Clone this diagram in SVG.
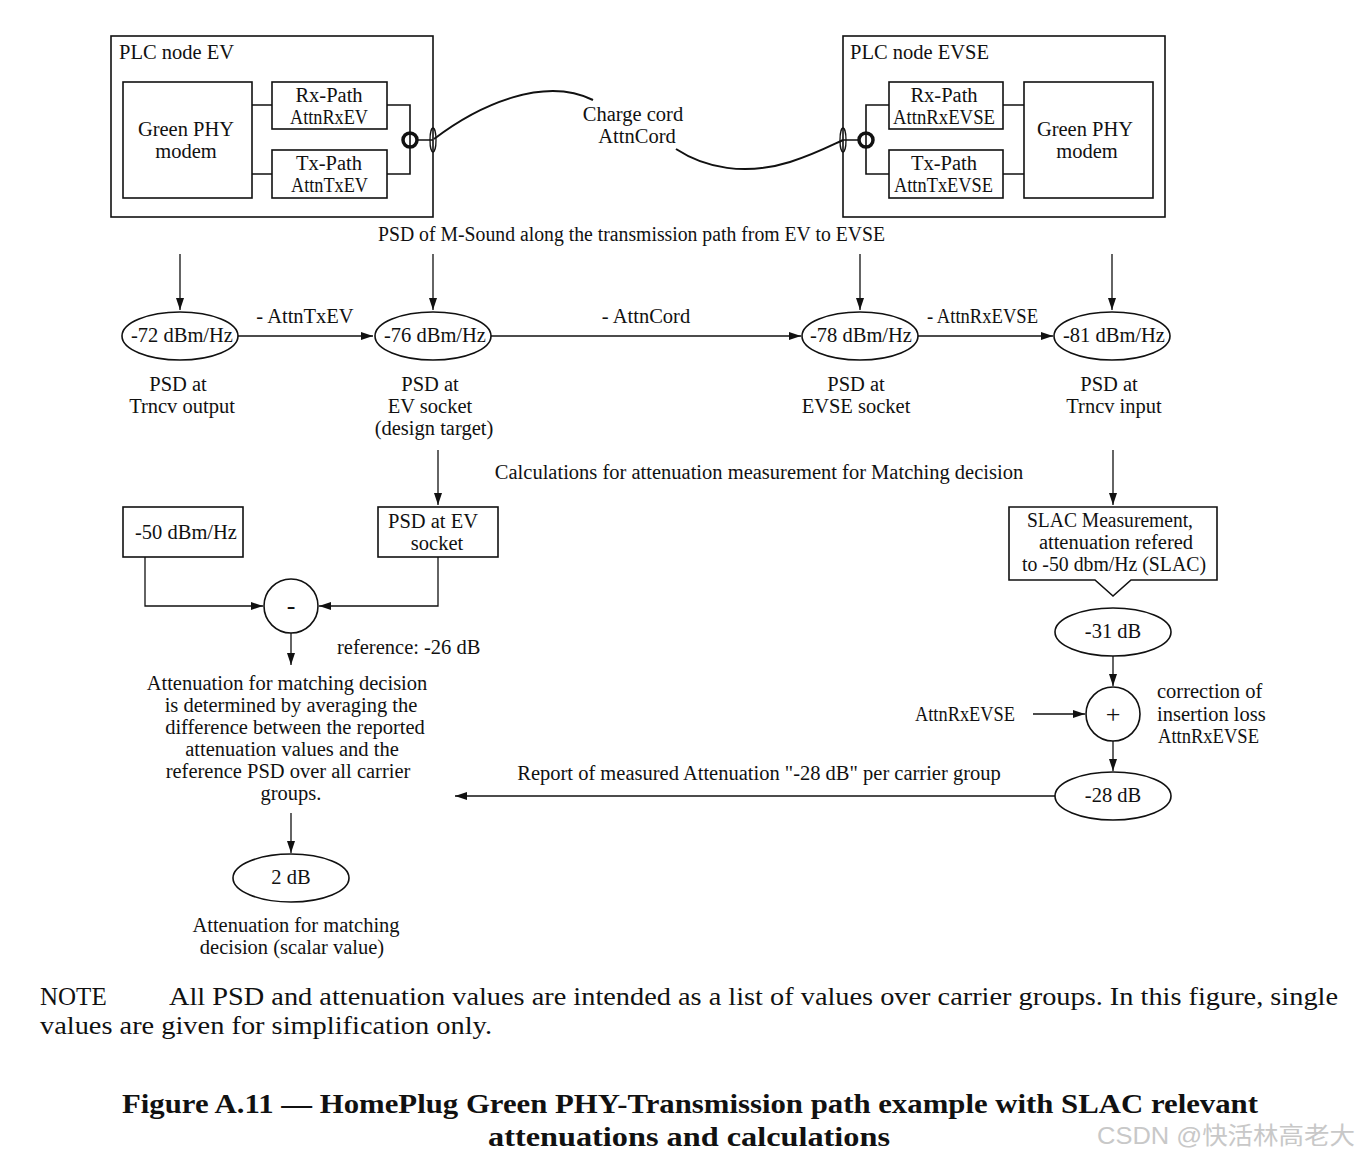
<svg xmlns="http://www.w3.org/2000/svg" width="1360" height="1158" viewBox="0 0 1360 1158">
<defs>
<style>
text{font-family:"Liberation Serif","DejaVu Serif",serif;font-size:20.5px;fill:#111}
.c{text-anchor:middle}
.b{fill:none;stroke:#111;stroke-width:1.6}
.t{fill:none;stroke:#111;stroke-width:2}
.l{fill:none;stroke:#111;stroke-width:1.3}
.a{fill:none;stroke:#111;stroke-width:1.3;marker-end:url(#ah)}
.sym{font-size:26px}
.note{font-size:25px}
.cap{font-size:28px;font-weight:bold}
.wm{font-family:"Liberation Sans","Noto Sans CJK SC",sans-serif;font-size:24px;fill:#c8c8c8}
</style>
<marker id="ah" viewBox="0 0 12 8" refX="12" refY="4" markerWidth="12" markerHeight="8" markerUnits="userSpaceOnUse" orient="auto">
<path d="M0,0 L12,4 L0,8 Z" fill="#111"/>
</marker>
</defs>
<rect width="1360" height="1158" fill="#fff"/>

<g id="plc-ev">
<rect class="b" x="111" y="36" width="322" height="181"/>
<text x="119" y="59">PLC node EV</text>
<rect class="b" x="123" y="82" width="129" height="116"/>
<text class="c" x="186" y="136">Green PHY</text>
<text class="c" x="186" y="158">modem</text>
<rect class="b" x="272" y="82" width="115" height="47"/>
<text class="c" x="329" y="102">Rx-Path</text>
<text x="290" y="124" textLength="78" lengthAdjust="spacingAndGlyphs">AttnRxEV</text>
<rect class="b" x="272" y="150" width="115" height="48"/>
<text class="c" x="329" y="170">Tx-Path</text>
<text x="291" y="192" textLength="77" lengthAdjust="spacingAndGlyphs">AttnTxEV</text>
<path class="b" d="M252,105 H272 M252,174 H272 M387,105 H410 V174 H387 M417,140 H433"/>
<circle cx="410" cy="140" r="7" fill="none" stroke="#111" stroke-width="3.5"/>
<ellipse cx="433" cy="140" rx="3" ry="12" class="l"/>
</g>

<g id="plc-evse">
<rect class="b" x="843" y="36" width="322" height="181"/>
<text x="850" y="59">PLC node EVSE</text>
<rect class="b" x="889" y="82" width="114" height="47"/>
<text class="c" x="944" y="102">Rx-Path</text>
<text x="893" y="124" textLength="102" lengthAdjust="spacingAndGlyphs">AttnRxEVSE</text>
<rect class="b" x="889" y="150" width="114" height="48"/>
<text class="c" x="944" y="170">Tx-Path</text>
<text x="894" y="192" textLength="99" lengthAdjust="spacingAndGlyphs">AttnTxEVSE</text>
<rect class="b" x="1024" y="82" width="129" height="116"/>
<text class="c" x="1085" y="136">Green PHY</text>
<text class="c" x="1087" y="158">modem</text>
<path class="b" d="M1003,105 H1024 M1003,174 H1024 M889,105 H866 V174 H889 M843,140 H859"/>
<circle cx="866" cy="140" r="7" fill="none" stroke="#111" stroke-width="3.5"/>
<ellipse cx="843" cy="140" rx="3" ry="12" class="l"/>
</g>

<g id="charge-cord">
<text class="c" x="633" y="121">Charge cord</text>
<text class="c" x="637" y="143">AttnCord</text>
</g>

<g id="connectors">
<path class="t" d="M434,139 C480,104 545,76 593,100"/>
<path class="t" d="M676,149 C705,168 745,176 790,162 C815,154 830,146 843,140"/>
<path class="a" d="M180,254 V310"/>
<path class="a" d="M433,254 V310"/>
<path class="a" d="M860,254 V310"/>
<path class="a" d="M1112,254 V310"/>
<path class="a" d="M238,336 H373"/>
<path class="a" d="M491,336 H801"/>
<path class="a" d="M918,336 H1053"/>
<path class="a" d="M438,450 V505"/>
<path class="a" d="M1113,450 V505"/>
<path class="a" d="M145,557 V606 H263"/>
<path class="a" d="M438,557 V606 H319"/>
<path class="a" d="M291,633 V665"/>
<path class="a" d="M291,813 V853"/>
<path class="a" d="M1113,656 V686"/>
<path class="a" d="M1033,714 H1085"/>
<path class="a" d="M1113,741 V771"/>
<path class="a" d="M1055,796 H455"/>
</g>

<g id="labels">
<text x="378" y="241" textLength="507" lengthAdjust="spacingAndGlyphs">PSD of M-Sound along the transmission path from EV to EVSE</text>
<text class="c" x="305" y="323">- AttnTxEV</text>
<text class="c" x="646" y="323">- AttnCord</text>
<text x="927" y="323" textLength="111" lengthAdjust="spacingAndGlyphs">- AttnRxEVSE</text>
<text class="c" x="759" y="479">Calculations for attenuation measurement for Matching decision</text>
<text class="c" x="759" y="780">Report of measured Attenuation "-28 dB" per carrier group</text>
</g>

<g id="psd-trncv-out">
<ellipse class="b" cx="180" cy="336" rx="58" ry="24"/>
<text class="c" x="182" y="342">-72 dBm/Hz</text>
<text class="c" x="178" y="391">PSD at</text>
<text class="c" x="182" y="413">Trncv output</text>
</g>
<g id="psd-ev-socket">
<ellipse class="b" cx="433" cy="336" rx="58" ry="24"/>
<text class="c" x="435" y="342">-76 dBm/Hz</text>
<text class="c" x="430" y="391">PSD at</text>
<text class="c" x="430" y="413">EV socket</text>
<text class="c" x="434" y="435">(design target)</text>
</g>
<g id="psd-evse-socket">
<ellipse class="b" cx="860" cy="336" rx="58" ry="24"/>
<text class="c" x="861" y="342">-78 dBm/Hz</text>
<text class="c" x="856" y="391">PSD at</text>
<text class="c" x="856" y="413">EVSE socket</text>
</g>
<g id="psd-trncv-in">
<ellipse class="b" cx="1112" cy="336" rx="58" ry="24"/>
<text class="c" x="1114" y="342">-81 dBm/Hz</text>
<text class="c" x="1109" y="391">PSD at</text>
<text class="c" x="1114" y="413">Trncv input</text>
</g>

<g id="ref-psd">
<rect class="b" x="123" y="507" width="120" height="50"/>
<text class="c" x="186" y="539">-50 dBm/Hz</text>
</g>
<g id="psd-ev-box">
<rect class="b" x="378" y="507" width="120" height="50"/>
<text class="c" x="433" y="528">PSD at EV</text>
<text class="c" x="437" y="550">socket</text>
</g>
<g id="minus">
<circle class="b" cx="291" cy="606" r="27"/>
<text class="c sym" x="291" y="614">-</text>
<text x="337" y="654">reference: -26 dB</text>
</g>
<g id="avg-text">
<text class="c" x="287" y="690">Attenuation for matching decision</text>
<text class="c" x="291" y="712">is determined by averaging the</text>
<text class="c" x="295" y="734">difference between the reported</text>
<text class="c" x="292" y="756">attenuation values and the</text>
<text class="c" x="288" y="778">reference PSD over all carrier</text>
<text class="c" x="291" y="800">groups.</text>
</g>
<g id="result-2db">
<ellipse class="b" cx="291" cy="878" rx="58" ry="24"/>
<text class="c" x="291" y="884">2 dB</text>
<text class="c" x="296" y="932">Attenuation for matching</text>
<text class="c" x="292" y="954">decision (scalar value)</text>
</g>

<g id="slac-box">
<path class="b" d="M1009,507 H1217 V580 H1131 L1113,596 L1095,580 H1009 Z"/>
<text x="1027" y="527" textLength="166" lengthAdjust="spacingAndGlyphs">SLAC Measurement,</text>
<text class="c" x="1116" y="549">attenuation refered</text>
<text x="1022" y="571" textLength="184" lengthAdjust="spacingAndGlyphs">to -50 dbm/Hz (SLAC)</text>
</g>
<g id="m31db">
<ellipse class="b" cx="1113" cy="632" rx="58" ry="24"/>
<text class="c" x="1113" y="638">-31 dB</text>
</g>
<g id="plus">
<circle class="b" cx="1113" cy="714" r="27"/>
<text class="c sym" x="1113" y="723">+</text>
<text x="915" y="721" textLength="100" lengthAdjust="spacingAndGlyphs">AttnRxEVSE</text>
<text x="1157" y="698">correction of</text>
<text x="1157" y="721">insertion loss</text>
<text x="1158" y="743" textLength="101" lengthAdjust="spacingAndGlyphs">AttnRxEVSE</text>
</g>
<g id="m28db">
<ellipse class="b" cx="1113" cy="796" rx="58" ry="24"/>
<text class="c" x="1113" y="802">-28 dB</text>
</g>

<g id="note">
<text class="note" x="40" y="1005">NOTE</text>
<text class="note" x="169" y="1005" textLength="1169" lengthAdjust="spacingAndGlyphs">All PSD and attenuation values are intended as a list of values over carrier groups. In this figure, single</text>
<text class="note" x="40" y="1034" textLength="452" lengthAdjust="spacingAndGlyphs">values are given for simplification only.</text>
</g>
<g id="caption">
<text class="cap" x="122" y="1113" textLength="1136" lengthAdjust="spacingAndGlyphs">Figure A.11 — HomePlug Green PHY-Transmission path example with SLAC relevant</text>
<text class="cap" x="488" y="1146" textLength="402" lengthAdjust="spacingAndGlyphs">attenuations and calculations</text>
</g>
<text class="wm" x="1097" y="1144" textLength="258" lengthAdjust="spacingAndGlyphs">CSDN @快活林高老大</text>
</svg>
